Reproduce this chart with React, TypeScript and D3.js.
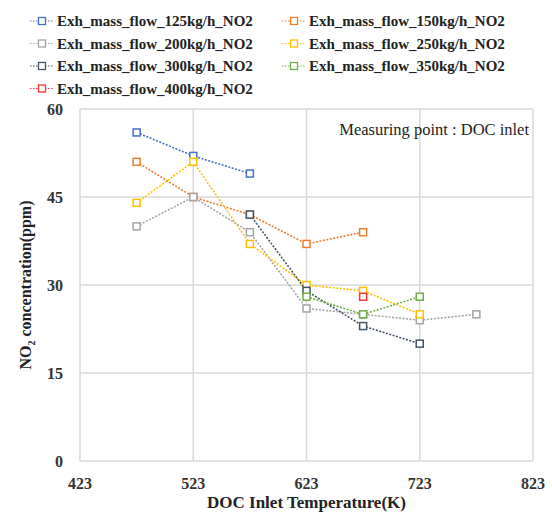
import React from "react";
import * as d3 from "d3";

const xTicks = [423, 523, 623, 723, 823];
const yTicks = [0, 15, 30, 45, 60];

const seriesNames = [
  "Exh_mass_flow_125kg/h_NO2",
  "Exh_mass_flow_150kg/h_NO2",
  "Exh_mass_flow_200kg/h_NO2",
  "Exh_mass_flow_250kg/h_NO2",
  "Exh_mass_flow_300kg/h_NO2",
  "Exh_mass_flow_350kg/h_NO2",
  "Exh_mass_flow_400kg/h_NO2",
];
const seriesColors = ["#4472C4", "#ED7D31", "#A5A5A5", "#FFC000", "#44546A", "#70AD47", "#FF3030"];

const temps125 = [473, 523, 573];
const vals125 = [56, 52, 49];
const temps150 = [473, 523, 573, 623, 673];
const vals150 = [51, 45, 42, 37, 39];
const temps200 = [473, 523, 573, 623, 673, 723, 773];
const vals200 = [40, 45, 39, 26, 25, 24, 25];
const temps250 = [473, 523, 573, 623, 673, 723];
const vals250 = [44, 51, 37, 30, 29, 25];
const temps300 = [573, 623, 673, 723];
const vals300 = [42, 29, 23, 20];
const temps350 = [623, 673, 723];
const vals350 = [28, 25, 28];
const temps400 = [673];
const vals400 = [28];

const seriesTemps = [temps125, temps150, temps200, temps250, temps300, temps350, temps400];
const seriesVals = [vals125, vals150, vals200, vals250, vals300, vals350, vals400];

const W = 552;
const H = 515;
const left = 80;
const right = 533;
const top = 109;
const bottom = 461;

export default function App() {
  const x = d3.scaleLinear().domain([423, 823]).range([left, right]);
  const y = d3.scaleLinear().domain([0, 60]).range([bottom, top]);
  const line = d3
    .line<[number, number]>()
    .x((d) => x(d[0]))
    .y((d) => y(d[1]));
  const serif = "'Liberation Serif', 'Times New Roman', serif";
  const legendPos = [
    [30, 21],
    [282, 21],
    [30, 43.5],
    [282, 43.5],
    [30, 66],
    [282, 66],
    [30, 88.5],
  ];
  return (
    <svg width={W} height={H} style={{ position: "absolute", left: 0, top: 0, background: "#fff" }}>
      {yTicks.map((t) => (
        <line key={"gy" + t} x1={left} x2={right} y1={y(t)} y2={y(t)} stroke="#D9D9D9" strokeWidth={1.5} />
      ))}
      {xTicks.map((t) => (
        <line key={"gx" + t} x1={x(t)} x2={x(t)} y1={top} y2={bottom} stroke="#D9D9D9" strokeWidth={1.5} />
      ))}
      {yTicks.map((t) => (
        <text key={"ty" + t} x={left - 17} y={y(t) + 5.5} textAnchor="end" fontFamily={serif} fontWeight="bold" fontSize={16} fill="#333">
          {t}
        </text>
      ))}
      {xTicks.map((t) => (
        <text key={"tx" + t} x={x(t)} y={bottom + 28} textAnchor="middle" fontFamily={serif} fontWeight="bold" fontSize={16} fill="#333">
          {t}
        </text>
      ))}
      <text x={(left + right) / 2} y={508} textAnchor="middle" fontFamily={serif} fontWeight="bold" fontSize={17} fill="#222">
        DOC Inlet Temperature(K)
      </text>
      <text
        transform={`translate(31, ${(top + bottom) / 2}) rotate(-90)`}
        textAnchor="middle"
        fontFamily={serif}
        fontWeight="bold"
        fontSize={16}
        fill="#222"
      >
        NO<tspan fontSize={10} dy={4}>2</tspan>
        <tspan dy={-4}> concentration(ppm)</tspan>
      </text>
      <text x={529} y={135} textAnchor="end" fontFamily={serif} fontSize={16.5} fill="#222">
        Measuring point : DOC inlet
      </text>
      {seriesNames.map((name, i) => {
        const pts: [number, number][] = seriesTemps[i].map((t, j) => [t, seriesVals[i][j]]);
        return (
          <g key={name}>
            {pts.length > 1 && (
              <path d={line(pts) || ""} fill="none" stroke={seriesColors[i]} strokeWidth={1.6} strokeDasharray="2,1.5" />
            )}
            {pts.map((p, j) => (
              <rect
                key={j}
                x={x(p[0]) - 3.5}
                y={y(p[1]) - 3.5}
                width={7}
                height={7}
                fill="#fff"
                stroke={seriesColors[i]}
                strokeWidth={1.5}
              />
            ))}
          </g>
        );
      })}
      {seriesNames.map((name, i) => {
        const [lx, ly] = legendPos[i];
        return (
          <g key={"lg" + name}>
            <line x1={lx} x2={lx + 24} y1={ly} y2={ly} stroke={seriesColors[i]} strokeWidth={1.2} strokeDasharray="1.5,1.5" />
            <rect x={lx + 8.5} y={ly - 3.5} width={7} height={7} fill="#fff" stroke={seriesColors[i]} strokeWidth={1.3} />
            <text x={lx + 27} y={ly + 5} fontFamily={serif} fontWeight="bold" fontSize={15} fill="#222">
              {name}
            </text>
          </g>
        );
      })}
    </svg>
  );
}
